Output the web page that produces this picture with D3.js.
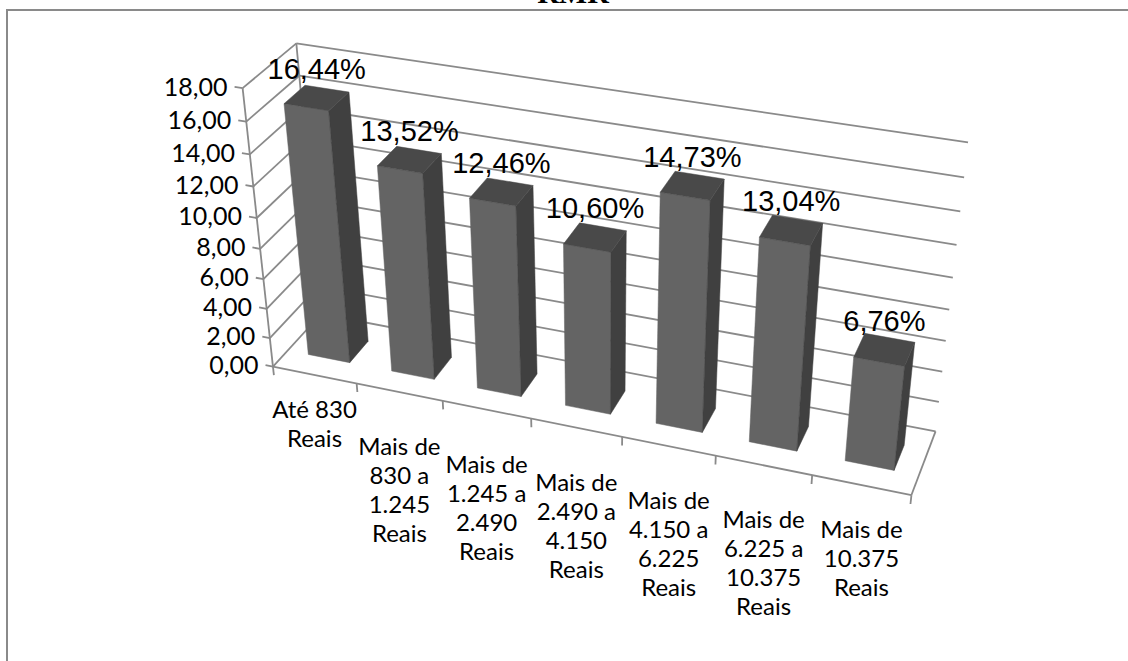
<!DOCTYPE html>
<html><head><meta charset="utf-8">
<script src="https://cdn.jsdelivr.net/npm/d3@7"></script>
<style>html,body{margin:0;padding:0;background:#fff;overflow:hidden}</style>
</head><body>
<svg id="chart" width="1128" height="661"></svg>
<script>
// ---------------- data ----------------
const chartTitle = "RMR";
const categories = [
  "Até 830 Reais",
  "Mais de 830 a 1.245 Reais",
  "Mais de 1.245 a 2.490 Reais",
  "Mais de 2.490 a 4.150 Reais",
  "Mais de 4.150 a 6.225 Reais",
  "Mais de 6.225 a 10.375 Reais",
  "Mais de 10.375 Reais"
];
const categoryLines = [
  ["Até 830", "Reais"],
  ["Mais de", "830 a", "1.245", "Reais"],
  ["Mais de", "1.245 a", "2.490", "Reais"],
  ["Mais de", "2.490 a", "4.150", "Reais"],
  ["Mais de", "4.150 a", "6.225", "Reais"],
  ["Mais de", "6.225 a", "10.375", "Reais"],
  ["Mais de", "10.375", "Reais"]
];
const values = [16.44, 13.52, 12.46, 10.60, 14.73, 13.04, 6.76];
const yTickValues = [0, 2, 4, 6, 8, 10, 12, 14, 16, 18];

// ---------------- layout ----------------
const W = 1128, H = 661;
const depthRange = [0, 1];            // floor depth in world units
const barDepth = [0.3, 0.7];          // bar front/back in world depth
// camera calibration: where corners of the 3-D plot box land on the page
// world = [category units, value units, depth units]
const nCat = categories.length, yMax = 18;
const frameAnchors = [
  [[0, 0, 0], [273, 365]],
  [[0, yMax, 0], [243, 88]],
  [[0, yMax, 1], [296, 43]],
  [[0, 0, 1], [321, 316]],
  [[nCat, 0, 0], [911, 497]],
  [[nCat, 0, 1], [936, 429]],
  [[nCat, yMax, 1], [968, 143]]
];

function solveCamera(anchors) {
  const rows = [], rhs = [];
  anchors.forEach(([[X, Y, Z], [u, v]]) => {
    rows.push([X, Y, Z, 1, 0, 0, 0, 0, -u * X, -u * Y, -u * Z]); rhs.push(u);
    rows.push([0, 0, 0, 0, X, Y, Z, 1, -v * X, -v * Y, -v * Z]); rhs.push(v);
  });
  const n = 11;
  const M = Array.from({length: n}, () => new Array(n + 1).fill(0));
  rows.forEach((r, k) => {
    for (let i = 0; i < n; i++) {
      for (let j = 0; j < n; j++) M[i][j] += r[i] * r[j];
      M[i][n] += r[i] * rhs[k];
    }
  });
  for (let c = 0; c < n; c++) {
    let piv = c;
    for (let r = c + 1; r < n; r++) if (Math.abs(M[r][c]) > Math.abs(M[piv][c])) piv = r;
    [M[c], M[piv]] = [M[piv], M[c]];
    for (let r = 0; r < n; r++) {
      if (r === c) continue;
      const f = M[r][c] / M[c][c];
      for (let k = c; k <= n; k++) M[r][k] -= f * M[c][k];
    }
  }
  return M.map((r, i) => r[n] / r[i]);
}
const P = solveCamera(frameAnchors);
function proj(X, Y, Z) {
  const w = P[8] * X + P[9] * Y + P[10] * Z + 1;
  return [(P[0] * X + P[1] * Y + P[2] * Z + P[3]) / w,
          (P[4] * X + P[5] * Y + P[6] * Z + P[7]) / w];
}

// ---------------- scales ----------------
const x = d3.scaleBand().domain(categories).range([0, nCat]).paddingInner(0.5).paddingOuter(0.25);
const y = d3.scaleLinear().domain([0, 18]).range([0, yMax]);
const locale = d3.formatLocale({decimal: ",", thousands: ".", grouping: [3], currency: ["", ""]});
const fmt2 = locale.format(".2f");

const svg = d3.select("#chart");
svg.append("rect").attr("width", W).attr("height", H).attr("fill", "#fff");

// outer border (only top & left visible)
svg.append("path").attr("d", "M7,661 L7,10 L1128,10")
  .attr("fill", "none").attr("stroke", "#8a8a8a").attr("stroke-width", 2);

// title (clipped at the top, as in the source)
svg.append("text").attr("x", 573).attr("y", 3).attr("text-anchor", "middle")
  .attr("font-family", "Liberation Serif, serif").attr("font-weight", "bold")
  .attr("font-size", 30).text(chartTitle);

const line = d3.line();
const gridCol = "#8a8a8a";
const g = svg.append("g");

function seg(a, b) {
  g.append("path").attr("d", line([proj(...a), proj(...b)]))
    .attr("fill", "none").attr("stroke", gridCol).attr("stroke-width", 1.8);
}

// gridlines on back wall and left wall
yTickValues.forEach(t => {
  const yy = y(t);
  seg([0, yy, depthRange[1]], [nCat, yy, depthRange[1]]);
  seg([0, yy, depthRange[0]], [0, yy, depthRange[1]]);
});
// wall edges
seg([0, 0, depthRange[1]], [0, yMax, depthRange[1]]);
seg([0, 0, depthRange[0]], [0, yMax, depthRange[0]]);
// floor front & right edge
seg([0, 0, 0], [nCat, 0, 0]);
seg([nCat, 0, 0], [nCat, 0, depthRange[1]]);
// value-axis ticks
yTickValues.forEach(t => seg([0, y(t), 0], [-0.09, y(t), 0]));
// category ticks
const step = x.step(), gap = (step - x.bandwidth()) / 2;
const bounds = categories.map(c => x(c) - gap).concat([nCat]);
bounds.forEach(b => seg([b, 0, 0], [b, -0.6, 0]));

// y tick labels
yTickValues.forEach(t => {
  const p = proj(-0.09, y(t), 0);
  svg.append("text").attr("x", p[0] - 7).attr("y", p[1]).attr("dy", "0.35em")
    .attr("text-anchor", "end").attr("font-family", "Lato, sans-serif")
    .attr("font-size", 25).attr("fill", "#000").text(fmt2(t));
});

// bars
const faceColors = {front: "#646464", right: "#404040", top: "#494949", left: "#555", back: "#555"};
function signedArea(pts) {
  let s = 0;
  for (let i = 0; i < pts.length; i++) {
    const a = pts[i], b = pts[(i + 1) % pts.length];
    s += a[0] * b[1] - b[0] * a[1];
  }
  return s / 2;
}
const bars = svg.append("g");
values.forEach((v, i) => {
  const x0 = x(categories[i]), x1 = x0 + x.bandwidth();
  const z0 = barDepth[0], z1 = barDepth[1];
  const h = y(v);
  const faces = [
    ["front", [[x0,0,z0],[x1,0,z0],[x1,h,z0],[x0,h,z0]]],
    ["right", [[x1,0,z0],[x1,0,z1],[x1,h,z1],[x1,h,z0]]],
    ["top",   [[x0,h,z0],[x1,h,z0],[x1,h,z1],[x0,h,z1]]],
    ["left",  [[x0,0,z1],[x0,0,z0],[x0,h,z0],[x0,h,z1]]],
    ["back",  [[x1,0,z1],[x0,0,z1],[x0,h,z1],[x1,h,z1]]]
  ];
  const ref = signedArea(faces[0][1].map(p => proj(...p)));
  faces.forEach(([name, pts]) => {
    const pp = pts.map(p => proj(...p));
    const a = signedArea(pp);
    if (a * ref <= 0) return;
    bars.append("path").attr("d", line(pp) + "Z").attr("fill", faceColors[name])
      .attr("stroke", faceColors[name]).attr("stroke-width", 0.5);
  });
  // value label
  const c = proj((x0 + x1) / 2, h, (z0 + z1) / 2);
  svg.append("text").attr("x", c[0]).attr("y", c[1] - 19).attr("text-anchor", "middle")
    .attr("font-family", "Liberation Sans, Arial, sans-serif").attr("font-size", 29)
    .attr("fill", "#000").text(fmt2(v) + "%");
});

// category labels (wrapped; block sits lower the more lines it has)
const lineGap = 29;
categoryLines.forEach((lines, i) => {
  const c = proj(x(categories[i]) + x.bandwidth() / 2, 0, 0);
  const top = c[1] + 14.5 + 10 * lines.length;
  const t = svg.append("text").attr("text-anchor", "middle")
    .attr("font-family", "Lato, sans-serif").attr("font-size", 24).attr("fill", "#000");
  lines.forEach((ln, k) => {
    t.append("tspan").attr("x", c[0]).attr("y", top + k * lineGap).attr("dy", "0.35em").text(ln);
  });
});
</script>
</body></html>
